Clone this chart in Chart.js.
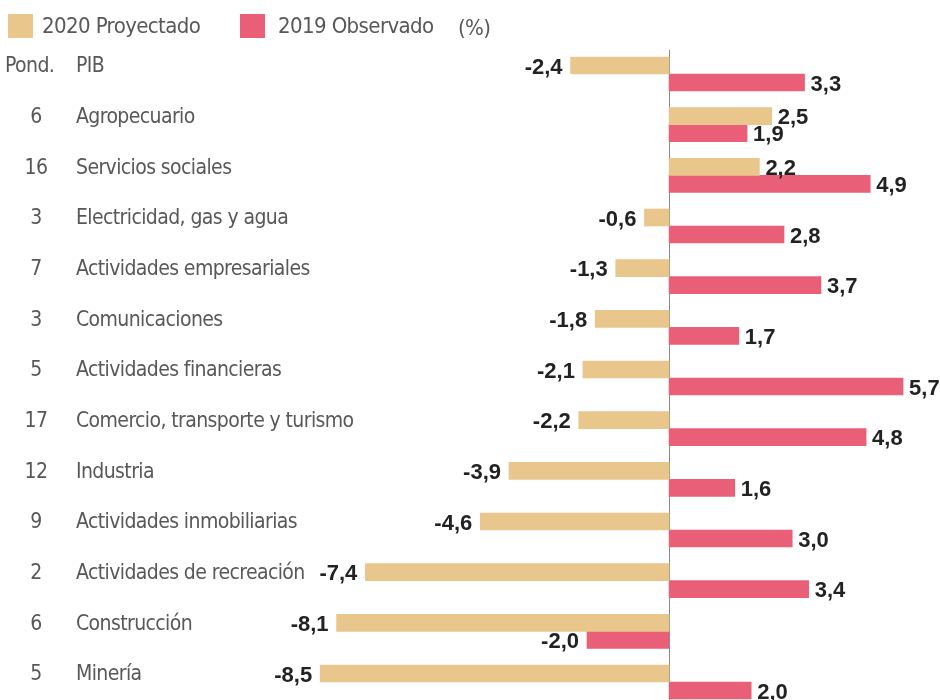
<!DOCTYPE html>
<html lang="es">
<head>
<meta charset="UTF-8">
<title>PIB por sectores</title>
<script src="https://cdn.jsdelivr.net/npm/chart.js@4.4.1/dist/chart.umd.min.js"></script>
<style>
    html, body { margin: 0; padding: 0; background: #fff; }
    #wrap { width: 940px; height: 700px; }
</style>
</head>
<body>
<div id="wrap"><canvas id="chart" width="940" height="700"></canvas></div>
<script>
const sectores = ['PIB', 'Agropecuario', 'Servicios sociales', 'Electricidad, gas y agua',
    'Actividades empresariales', 'Comunicaciones', 'Actividades financieras',
    'Comercio, transporte y turismo', 'Industria', 'Actividades inmobiliarias',
    'Actividades de recreación', 'Construcción', 'Minería'];
const ponderaciones = [null, 6, 16, 3, 7, 3, 5, 17, 12, 9, 2, 6, 5];
const proyectado2020 = [-2.4, 2.5, 2.2, -0.6, -1.3, -1.8, -2.1, -2.2, -3.9, -4.6, -7.4, -8.1, -8.5];
const observado2019 = [3.3, 1.9, 4.9, 2.8, 3.7, 1.7, 5.7, 4.8, 1.6, 3.0, 3.4, -2.0, 2.0];
const unidad = '(%)';
const tituloPond = 'Pond.';

const TAN = '#E9C68C';
const PINK = '#E85F77';
const NARROW = '"DejaVu Sans Condensed", "Liberation Sans Narrow", sans-serif';

// linea vertical en cero
const zeroLine = {
    id: 'zeroLine',
    beforeDatasetsDraw(chart) {
        const ctx = chart.ctx;
        const x = Math.round(chart.scales.x.getPixelForValue(0)) + 0.5;
        ctx.save();
        ctx.strokeStyle = '#8a8a8a';
        ctx.lineWidth = 1;
        ctx.beginPath();
        ctx.moveTo(x, 50);
        ctx.lineTo(x, 700);
        ctx.stroke();
        ctx.restore();
    }
};

// leyenda, ponderaciones y nombres de sectores
const sideText = {
    id: 'sideText',
    afterDraw(chart) {
        const ctx = chart.ctx;
        const y = chart.scales.y;
        ctx.save();
        ctx.textBaseline = 'middle';

        // leyenda
        ctx.font = '22px ' + NARROW;
        ctx.letterSpacing = '-0.6px';
        const items = chart.data.datasets;
        const boxX = [8, 240];
        const textX = [42, 278];
        items.forEach((ds, i) => {
            ctx.fillStyle = ds.backgroundColor;
            ctx.fillRect(boxX[i], 14, 25, 24);
            ctx.fillStyle = '#585858';
            ctx.textAlign = 'left';
            ctx.fillText(ds.label, textX[i], 27);
        });
        ctx.fillText(unidad, 458, 29);

        ctx.font = '21px ' + NARROW;
        sectores.forEach((s, i) => {
            const py = y.getPixelForValue(i) - 7;
            ctx.textAlign = 'left';
            ctx.fillText(s, 76, py);
            if (ponderaciones[i] === null) {
                ctx.fillText(tituloPond, 5, py);
            } else {
                ctx.textAlign = 'center';
                ctx.fillText(String(ponderaciones[i]), 36, py);
            }
        });
        ctx.restore();
    }
};

// valores junto a las barras
const valueLabels = {
    id: 'valueLabels',
    afterDatasetsDraw(chart) {
        const ctx = chart.ctx;
        ctx.save();
        ctx.font = 'bold 22px "Liberation Sans", sans-serif';
        ctx.fillStyle = '#222';
        ctx.textBaseline = 'middle';
        chart.data.datasets.forEach((ds, di) => {
            chart.getDatasetMeta(di).data.forEach((bar, i) => {
                const v = ds.data[i];
                const txt = v.toFixed(1).replace('.', ',');
                if (v >= 0) {
                    ctx.textAlign = 'left';
                    ctx.fillText(txt, bar.x + 6, bar.y + 2);
                } else {
                    ctx.textAlign = 'right';
                    ctx.fillText(txt, bar.x - 8, bar.y + 2);
                }
            });
        });
        ctx.restore();
    }
};

new Chart(document.getElementById('chart'), {
    type: 'bar',
    data: {
        labels: sectores,
        datasets: [
            { label: '2020 Proyectado', data: proyectado2020, backgroundColor: TAN, barThickness: 17, clip: false },
            { label: '2019 Observado', data: observado2019, backgroundColor: PINK, barThickness: 17, clip: false }
        ]
    },
    options: {
        indexAxis: 'y',
        responsive: false,
        animation: false,
        devicePixelRatio: 1,
        layout: { padding: { top: 74, bottom: 18, left: 0, right: 0 } },
        scales: {
            x: { min: -16.3, max: 6.6, display: false },
            y: { type: 'category', offset: false, display: false }
        },
        plugins: {
            legend: { display: false },
            tooltip: { enabled: false }
        }
    },
    plugins: [zeroLine, valueLabels, sideText]
});
</script>
</body>
</html>
